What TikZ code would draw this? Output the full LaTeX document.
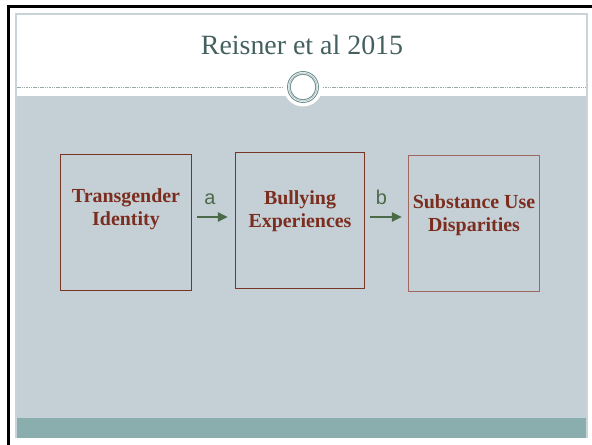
\documentclass[tikz,border=0pt]{standalone}
\usepackage{fontspec}
\setmainfont{Liberation Serif}
\newfontfamily\labelfont{Liberation Sans}
\usetikzlibrary{arrows.meta}
\definecolor{slidegray}{HTML}{C5D0D6}
\definecolor{teal}{HTML}{8AADAD}
\definecolor{titlecol}{HTML}{44605F}
\definecolor{boxred}{HTML}{7A3424}
\definecolor{boxred3}{HTML}{A0685E}
\definecolor{textred}{HTML}{7B2E1F}
\definecolor{arrgreen}{HTML}{4A6A48}
\definecolor{ringcol}{HTML}{6F9090}
\definecolor{edgecol}{HTML}{C8D4D8}
\definecolor{dashcol}{HTML}{9AA6A8}
\tikzset{
  stepbox/.style={draw=boxred, line width=1.2bp, inner sep=0pt, minimum width=131bp, minimum height=136bp},
  boxtext/.style={text=textred, font=\fontsize{20}{23.3}\selectfont\bfseries, align=center, anchor=base, inner sep=0pt},
  arr/.style={draw=arrgreen, line width=2bp, -{Triangle[length=10bp,width=9bp]}},
  arrlabel/.style={text=arrgreen, font=\labelfont\fontsize{20}{22}\selectfont, anchor=base, inner sep=0pt}
}
\begin{document}
\begin{tikzpicture}[x=1bp,y=-1bp]
\useasboundingbox (0,0) rectangle (592,445);
\fill[white] (0,0) rectangle (592,445);
% black frame
\fill[black] (7,5) rectangle (592,8);
\fill[black] (7,5) rectangle (10,445);
% slide
\fill[slidegray] (16,96) rectangle (587,418);
\fill[teal] (16,418) rectangle (587,438);
\draw[edgecol, line width=1.5bp] (16,438) -- (16,14) -- (587,14) -- (587,438);
% title
\node[text=titlecol, font=\fontsize{28}{32}\selectfont, anchor=base, inner sep=0pt] (title) at (302,55) {Reisner et al 2015};
% dashed separator and ornament
\draw[dashcol, line width=0.6bp, dash pattern=on 1.5bp off 0.8bp] (17,87) -- (586,87);
\fill[white] (303,87) circle (19.5);
\draw[ringcol, line width=0.9bp] (303,87) circle (15.5);
\draw[ringcol!60, line width=0.6bp] (303,87) circle (14);
\draw[ringcol, line width=0.9bp] (303,87) circle (12.8);
% boxes
\node[stepbox] (b1) at (126,222.5) {};
\node[stepbox, minimum width=129bp] (b2) at (300,220.5) {};
\node[stepbox, draw=boxred3] (b3) at (474,223.5) {};
\node[boxtext] (t1) at (126,226) {Transgender\\Identity};
\node[boxtext] (t2) at (300,227.6) {Bullying\\Experiences};
\node[boxtext] (t3) at (474,231.6) {Substance Use\\Disparities};
% arrows
\coordinate (ya) at (0,217);
\draw[arr] ([xshift=5bp]b1.east |- ya) -- ([xshift=-7bp]b2.west |- ya);
\draw[arr] ([xshift=5bp]b2.east |- ya) -- ([xshift=-6bp]b3.west |- ya);
\node[arrlabel] (la) at (210,204.5) {a};
\node[arrlabel] (lb) at (381.5,204.5) {b};
\end{tikzpicture}
\end{document}
